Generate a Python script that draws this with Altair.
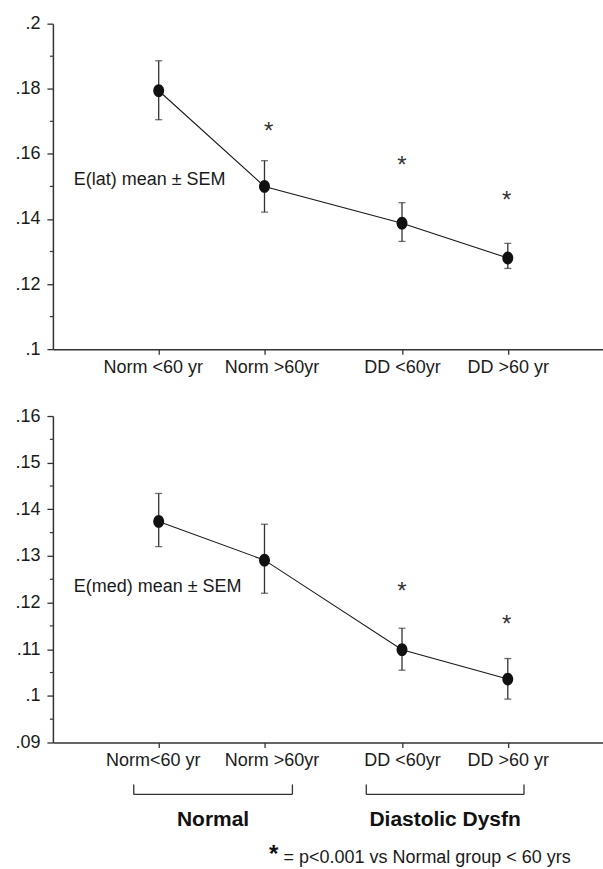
import altair as alt
import pandas as pd

FONT = "Liberation Sans"
INK = "#1a1a1a"
AX = "#333333"

# ---- data ----
x_pos = [1, 2, 3.3, 4.3]
labels_top = ["Norm <60 yr", "Norm >60yr", "DD <60yr", "DD >60 yr"]
labels_bot = ["Norm<60 yr", "Norm >60yr", "DD <60yr", "DD >60 yr"]

lat_mean = [0.1794, 0.1500, 0.1387, 0.1280]
lat_hi = [0.1886, 0.1579, 0.1450, 0.1325]
lat_lo = [0.1705, 0.1421, 0.1331, 0.1248]

med_mean = [0.1374, 0.1291, 0.1099, 0.1036]
med_hi = [0.1434, 0.1368, 0.1145, 0.1080]
med_lo = [0.1320, 0.1220, 0.1055, 0.0993]

star_lat_x = [2.04, 3.3, 4.29]
star_lat_y = [0.1682, 0.1579, 0.1472]
star_med_x = [3.3, 4.29]
star_med_y = [0.1234, 0.1163]

lat_ticks = [0.10, 0.12, 0.14, 0.16, 0.18, 0.20]
lat_minor = [0.11, 0.13, 0.15, 0.17, 0.19]
med_ticks = [0.09, 0.10, 0.11, 0.12, 0.13, 0.14, 0.15, 0.16]
med_minor = [0.095, 0.105, 0.115, 0.125, 0.135, 0.145, 0.155]

groups = ["Normal", "Diastolic Dysfn"]
group_start = [0.764, 2.962]
group_end = [2.264, 4.453]

footnote = "= p<0.001 vs Normal group < 60 yrs"

ELLIPSE = "M0,-1 A0.85,1 0 1,1 0,1 A0.85,1 0 1,1 0,-1 Z"


def label_expr(labels):
    cuts = [(x_pos[i] + x_pos[i + 1]) / 2 for i in range(len(x_pos) - 1)]
    expr = f"'{labels[-1]}'"
    for i in range(len(cuts) - 1, -1, -1):
        expr = f"datum.value < {cuts[i]} ? '{labels[i]}' : ({expr})"
    return expr


LABEL_OFFSET = {
    "condition": [
        {"test": "datum.value < 1.5", "value": -6},
        {"test": "datum.value < 2.65", "value": 7},
    ],
    "value": 0,
}


def panel(mean, lo, hi, labels, ydom, yticks, yminor, sx, sy, ltext, lx, ly):
    df = pd.DataFrame({"x": x_pos, "mean": mean, "lo": lo, "hi": hi})
    xscale = alt.Scale(domain=[0, 5.2], nice=False, zero=False)
    yscale = alt.Scale(domain=ydom, nice=False, zero=False)
    xaxis = alt.Axis(values=x_pos, labelExpr=label_expr(labels), title=None, grid=False,
                     tickSize=5, labelPadding=4, labelFontSize=18, labelFont=FONT,
                     labelColor=INK, domainColor=AX, tickColor=AX, domainWidth=1.5,
                     tickWidth=1.3, labelOffset=LABEL_OFFSET)
    yaxis = alt.Axis(values=yticks, labelExpr="substring(format(datum.value, '.2~f'), 1)",
                     title=None, grid=False, tickSize=6, labelPadding=7, labelFontSize=18,
                     labelFont=FONT, labelColor=INK, domainColor=AX, tickColor=AX,
                     domainWidth=1.5, tickWidth=1.3)

    def X(f):
        return alt.X(f, scale=xscale, axis=xaxis)

    def Y(f):
        return alt.Y(f, scale=yscale, axis=yaxis)

    base = alt.Chart(df)
    line = base.mark_line(color=INK, strokeWidth=1.1).encode(x=X("x:Q"), y=Y("mean:Q"))
    err = base.mark_rule(color=AX, strokeWidth=1.3).encode(x=X("x:Q"), y=Y("lo:Q"), y2="hi:Q")
    cap_lo = base.mark_tick(orient="horizontal", size=7, thickness=1.3, color=AX).encode(
        x=X("x:Q"), y=Y("lo:Q"))
    cap_hi = base.mark_tick(orient="horizontal", size=7, thickness=1.3, color=AX).encode(
        x=X("x:Q"), y=Y("hi:Q"))
    pts = base.mark_point(filled=True, shape=ELLIPSE, size=165, color="#111111",
                          opacity=1).encode(x=X("x:Q"), y=Y("mean:Q"))
    stars = alt.Chart(pd.DataFrame({"x": sx, "y": sy, "t": ["*"] * len(sx)})).mark_text(
        font=FONT, fontSize=24, color=AX, dy=5).encode(x=X("x:Q"), y=Y("y:Q"), text="t:N")
    lab = alt.Chart(pd.DataFrame({"x": [lx], "y": [ly], "t": [ltext]})).mark_text(
        font=FONT, fontSize=18, color=INK, align="left").encode(
        x=X("x:Q"), y=Y("y:Q"), text="t:N")
    minor = alt.Chart(pd.DataFrame({"v": yminor})).mark_rule(color=AX, strokeWidth=1.2).encode(
        y=Y("v:Q"), x=alt.value(-3), x2=alt.value(0))
    layers = [minor, err, cap_lo, cap_hi, line, pts, stars, lab]
    return layers, X, Y


top_layers, _, _ = panel(lat_mean, lat_lo, lat_hi, labels_top, [0.10, 0.20], lat_ticks,
                         lat_minor, star_lat_x, star_lat_y,
                         "E(lat) mean ± SEM", 0.198, 0.152)
top = alt.layer(*top_layers).properties(width=551, height=326)

bot_layers, BX, BY = panel(med_mean, med_lo, med_hi, labels_bot, [0.09, 0.16], med_ticks,
                           med_minor, star_med_x, star_med_y,
                           "E(med) mean ± SEM", 0.198, 0.1233)

gdf = pd.DataFrame({"group": groups, "start": group_start, "end": group_end})
br_h = alt.Chart(gdf).mark_rule(color=AX, strokeWidth=1.3).encode(
    x=BX("start:Q"), x2="end:Q", y=alt.value(379))
br_v = alt.Chart(gdf).transform_fold(["start", "end"], as_=["k", "v"]).mark_rule(
    color=AX, strokeWidth=1.3).encode(x=BX("v:Q"), y=alt.value(369), y2=alt.value(379))
gtxt = alt.Chart(gdf).transform_calculate(mid="(datum.start + datum.end) / 2").mark_text(
    font=FONT, fontSize=21, fontWeight="bold", color="#111111").encode(
    x=BX("mid:Q"), y=alt.value(405), text="group:N")
fn_star = alt.Chart(pd.DataFrame({"t": ["*"]})).mark_text(
    font=FONT, fontSize=24, fontWeight="bold", color="#111111").encode(
    x=alt.value(221), y=alt.value(440), text="t:N")
fn_text = alt.Chart(pd.DataFrame({"t": [footnote]})).mark_text(
    font=FONT, fontSize=18, color=INK, align="left").encode(
    x=alt.value(231), y=alt.value(443), text="t:N")

bottom = alt.layer(*bot_layers, br_h, br_v, gtxt, fn_star, fn_text).properties(
    width=551, height=327)

chart = alt.vconcat(top, bottom, spacing=31).properties(
    padding={"left": 14, "top": 14, "right": 0, "bottom": 0}
).configure_view(stroke=None)

chart.save("out.html", embed_options={"renderer": "svg", "actions": False})
